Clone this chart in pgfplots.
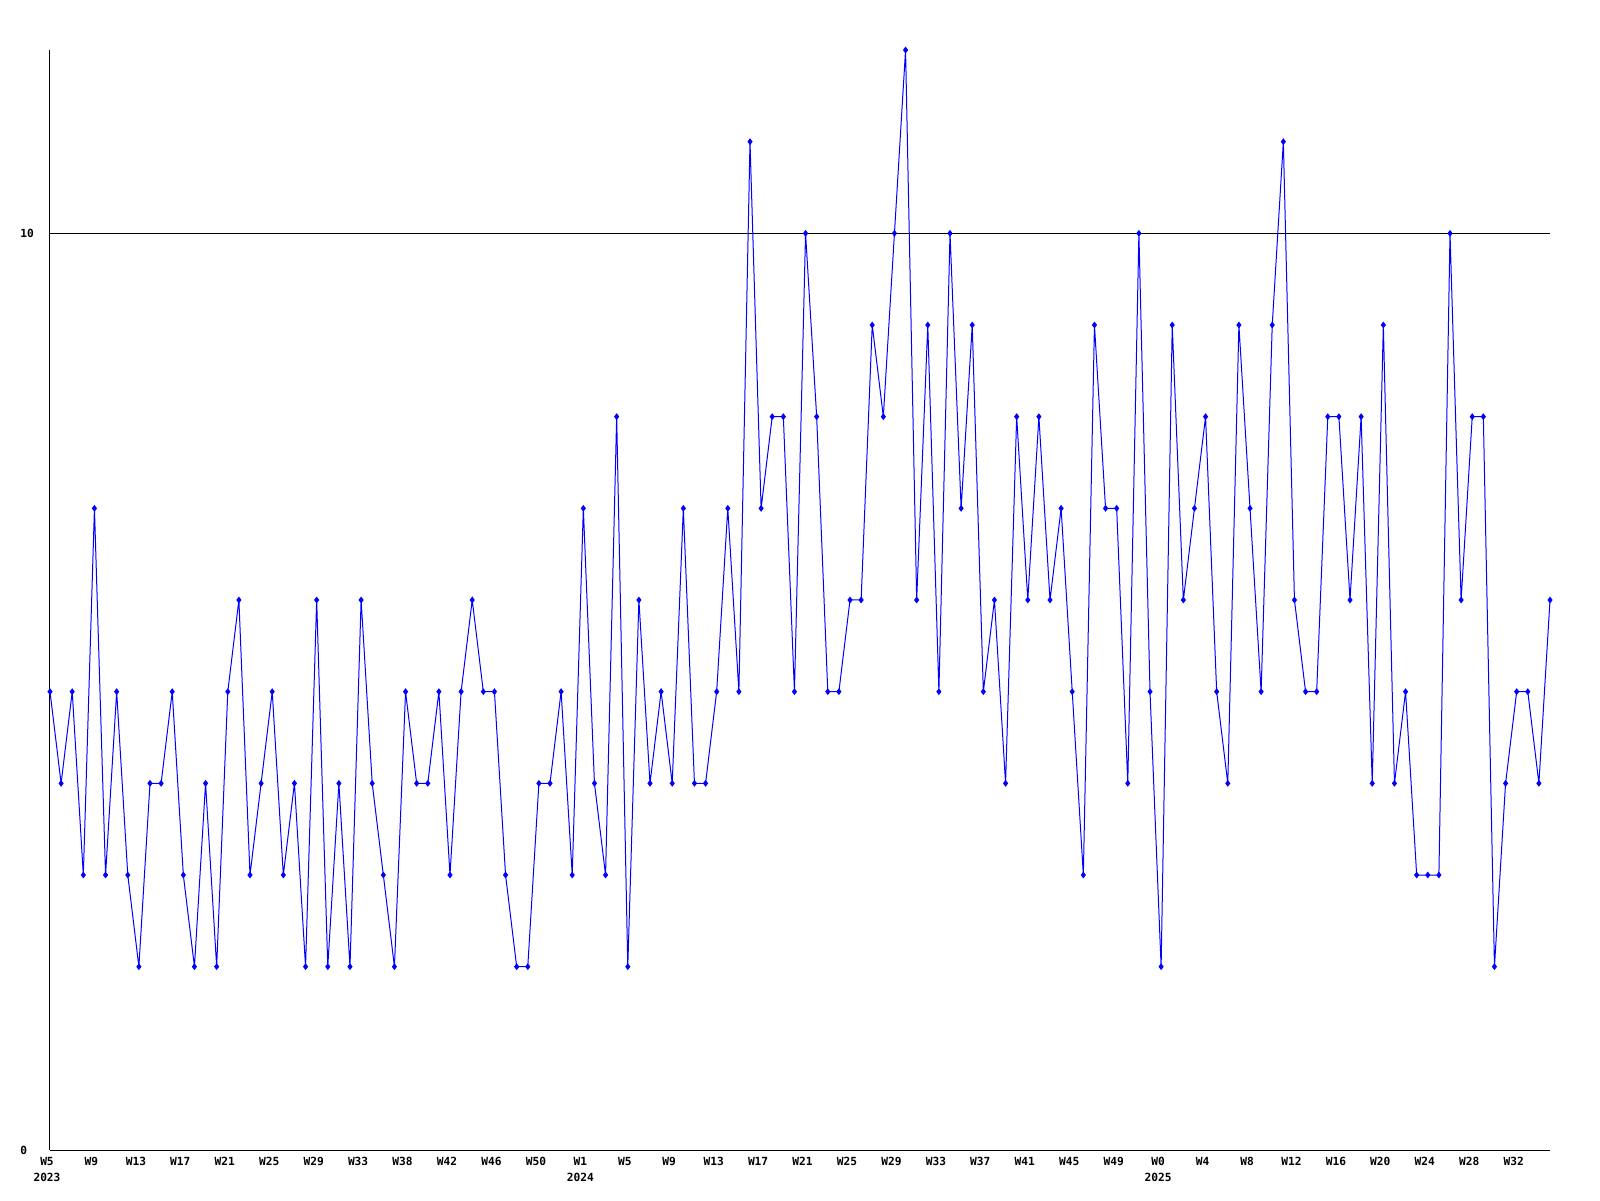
\documentclass[border=0pt]{standalone}
\usepackage{pgfplots}
\pgfplotsset{compat=1.18}
\usepackage{fontspec}
\newfontfamily\pix{DejaVu Sans Mono}
\pgfplotstableread{
x y
0 5
1 4
2 5
3 3
4 7
5 3
6 5
7 3
8 2
9 4
10 4
11 5
12 3
13 2
14 4
15 2
16 5
17 6
18 3
19 4
20 5
21 3
22 4
23 2
24 6
25 2
26 4
27 2
28 6
29 4
30 3
31 2
32 5
33 4
34 4
35 5
36 3
37 5
38 6
39 5
40 5
41 3
42 2
43 2
44 4
45 4
46 5
47 3
48 7
49 4
50 3
51 8
52 2
53 6
54 4
55 5
56 4
57 7
58 4
59 4
60 5
61 7
62 5
63 11
64 7
65 8
66 8
67 5
68 10
69 8
70 5
71 5
72 6
73 6
74 9
75 8
76 10
77 12
78 6
79 9
80 5
81 10
82 7
83 9
84 5
85 6
86 4
87 8
88 6
89 8
90 6
91 7
92 5
93 3
94 9
95 7
96 7
97 4
98 10
99 5
100 2
101 9
102 6
103 7
104 8
105 5
106 4
107 9
108 7
109 5
110 9
111 11
112 6
113 5
114 5
115 8
116 8
117 6
118 8
119 4
120 9
121 4
122 5
123 3
124 3
125 3
126 10
127 6
128 8
129 8
130 2
131 4
132 5
133 5
134 4
135 6
}\datatable
\begin{document}
\begin{tikzpicture}
\path[use as bounding box] (-25pt,-25pt) rectangle (775pt,575pt);
\begin{axis}[
  at={(0,0)}, anchor=south west,
  scale only axis, width=750pt, height=550pt,
  xmin=0, xmax=135, ymin=0, ymax=12,
  axis x line=bottom, axis y line=left,
  axis line style={-, black, line width=0.5pt},
  major tick length=0pt,
  ytick={0,10},
  ymajorgrids, grid style={black, line width=0.5pt},
  xtick={0,4,...,132},
  xticklabels={{W5\\2023},W9,W13,W17,W21,W25,W29,W33,W38,W42,W46,W50,{W1\\2024},W5,W9,W13,W17,W21,W25,W29,W33,W37,W41,W45,W49,{W0\\2025},W4,W8,W12,W16,W20,W24,W28,W32},
  /pgf/number format/assume math mode=true,
  ticklabel style={font=\pix\bfseries\fontsize{5.6}{8}\selectfont, inner sep=0pt},
  xticklabel style={anchor=north, align=center, yshift=-3.5pt, xshift=-1.5pt},
  yticklabel style={anchor=west, xshift=-15pt},
  clip=false,
]
\addplot[blue, line width=0.5pt, mark=diamond*, mark size=1.3pt, mark options={blue}] table[x=x,y=y] {\datatable};
\end{axis}
\end{tikzpicture}
\end{document}
